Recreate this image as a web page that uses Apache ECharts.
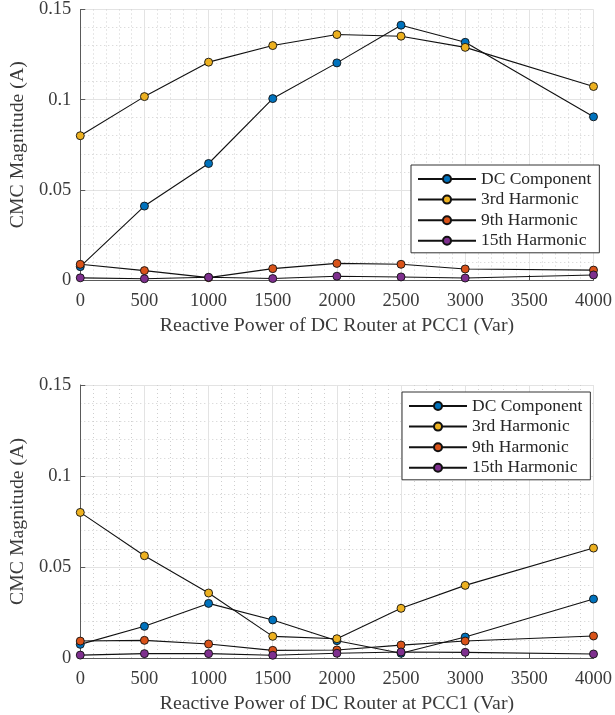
<!DOCTYPE html>
<html>
<head>
<meta charset="utf-8">
<script src="https://cdn.jsdelivr.net/npm/echarts@6/dist/echarts.min.js"></script>
<style>
html,body{margin:0;padding:0;background:#fff;}
#chart{width:615px;height:715px;}
</style>
</head>
<body>
<div id="chart"></div>
<script>
const xValues = [0, 500, 1000, 1500, 2000, 2500, 3000, 4000];
const seriesNames = ['DC Component', '3rd Harmonic', '9th Harmonic', '15th Harmonic'];
const seriesColors = ['#0072BD', '#EDB120', '#D95319', '#7E2F8E'];

// Top panel
const dcTop   = [0.0074, 0.041, 0.0646, 0.1006, 0.1204, 0.1413, 0.1318, 0.0905];
const h3Top   = [0.0800, 0.1017, 0.1208, 0.1300, 0.1361, 0.1352, 0.1290, 0.1073];
const h9Top   = [0.0087, 0.0052, 0.0013, 0.0063, 0.0092, 0.0087, 0.0061, 0.0055];
const h15Top  = [0.0012, 0.0007, 0.0015, 0.0008, 0.0021, 0.0017, 0.0011, 0.0028];

// Bottom panel
const dcBot   = [0.0075, 0.0174, 0.0300, 0.0209, 0.0095, 0.0026, 0.0115, 0.0324];
const h3Bot   = [0.0800, 0.0562, 0.0357, 0.0119, 0.0106, 0.0273, 0.0399, 0.0604];
const h9Bot   = [0.0093, 0.0097, 0.0077, 0.0042, 0.0044, 0.0071, 0.0093, 0.0121];
const h15Bot  = [0.0016, 0.0024, 0.0024, 0.0015, 0.0026, 0.0033, 0.0031, 0.0022];

const xTitle = 'Reactive Power of DC Router at PCC1 (Var)';
const yTitle = 'CMC Magnitude (A)';

const FONT = "'Liberation Serif', 'Times New Roman', serif";
const TXT = '#3a3a3a';
const AXC = '#5a5a5a';

function pairs(ys) { return xValues.map((x, i) => [x, ys[i]]); }

function xAxisCfg(gi) {
  return {
    type: 'value', gridIndex: gi, min: 0, max: 4000, interval: 500,
    name: xTitle, nameLocation: 'middle', nameGap: 36,
    nameTextStyle: {fontFamily: FONT, fontSize: 19.8, color: TXT},
    axisLine: {show: true, lineStyle: {color: AXC, width: 1}},
    axisTick: {show: true, inside: true, length: 5, lineStyle: {color: AXC}},
    axisLabel: {fontFamily: FONT, fontSize: 18.5, color: TXT, margin: 12,
                formatter: v => String(v)},
    splitLine: {show: true, lineStyle: {color: '#e3e3e3', width: 1}},
    minorTick: {show: false, splitNumber: 5},
    minorSplitLine: {show: true, lineStyle: {color: '#cfcfcf', width: 1, type: [1, 3]}}
  };
}
function yAxisCfg(gi) {
  return {
    type: 'value', gridIndex: gi, min: 0, max: 0.15, interval: 0.05,
    name: yTitle, nameLocation: 'middle', nameGap: 50,
    nameTextStyle: {fontFamily: FONT, fontSize: 19.8, color: TXT},
    axisLine: {show: true, lineStyle: {color: AXC, width: 1}},
    axisTick: {show: true, inside: true, length: 5, lineStyle: {color: AXC}},
    axisLabel: {fontFamily: FONT, fontSize: 18.5, color: TXT, margin: 9,
                formatter: v => String(+v.toFixed(4))},
    splitLine: {show: true, lineStyle: {color: '#e3e3e3', width: 1}},
    minorTick: {show: false, splitNumber: 5},
    minorSplitLine: {show: true, lineStyle: {color: '#cfcfcf', width: 1, type: [1, 3]}}
  };
}
function lineSeries(name, idx, data, gi) {
  return {
    name: name, type: 'line', xAxisIndex: gi, yAxisIndex: gi,
    data: pairs(data), symbol: 'circle', symbolSize: 8,
    lineStyle: {color: '#111', width: 1.1},
    itemStyle: {color: seriesColors[idx], borderColor: '#111', borderWidth: 0.9},
    emphasis: {disabled: true}, animation: false
  };
}
function legendCfg(left, top) {
  return {
    data: seriesNames, orient: 'vertical', left: left, top: top,
    padding: [4, 8, 2, 6], itemWidth: 58, itemHeight: 10, itemGap: 0.6,
    borderColor: '#333', borderWidth: 1, backgroundColor: '#fff',
    textStyle: {fontFamily: FONT, fontSize: 17.5, color: '#262626', lineHeight: 20},
    selectedMode: false
  };
}

const chart = echarts.init(document.getElementById('chart'), null, {renderer: 'canvas'});
chart.setOption({
  animation: false,
  backgroundColor: '#fff',
  grid: [
    {left: 76, top: 9, width: 520, height: 271},
    {left: 76, top: 385, width: 520, height: 273}
  ],
  xAxis: [xAxisCfg(0), xAxisCfg(1)],
  yAxis: [yAxisCfg(0), yAxisCfg(1)],
  legend: [legendCfg(411, 165), legendCfg(402, 392)],
  series: [
    lineSeries(seriesNames[0], 0, dcTop, 0),
    lineSeries(seriesNames[1], 1, h3Top, 0),
    lineSeries(seriesNames[2], 2, h9Top, 0),
    lineSeries(seriesNames[3], 3, h15Top, 0),
    lineSeries(seriesNames[0], 0, dcBot, 1),
    lineSeries(seriesNames[1], 1, h3Bot, 1),
    lineSeries(seriesNames[2], 2, h9Bot, 1),
    lineSeries(seriesNames[3], 3, h15Bot, 1)
  ]
});
</script>
</body>
</html>
